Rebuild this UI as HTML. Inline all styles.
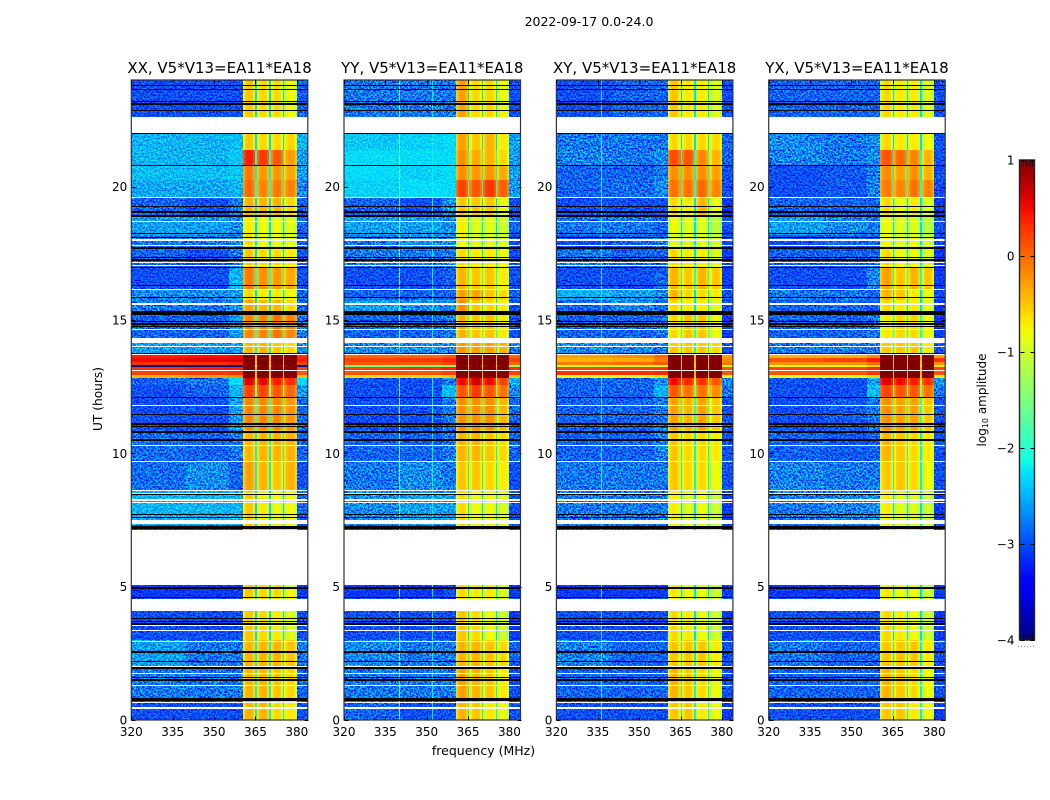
<!DOCTYPE html>
<html lang="en">
<head>
<meta charset="utf-8">
<title>2022-09-17 0.0-24.0</title>
<style>
html,body{margin:0;padding:0;background:#fff;}
body{width:1050px;height:800px;overflow:hidden;}
svg{display:block;}
text{font-family:"DejaVu Sans","Liberation Sans",sans-serif;fill:#000;}
.noise{mix-blend-mode:overlay;}
</style>
</head>
<body>
<svg id="chart" xmlns="http://www.w3.org/2000/svg" width="1050" height="800" viewBox="0 0 1050 800">
  <defs>
    <filter id="speckle" x="0" y="0" width="100%" height="100%" color-interpolation-filters="sRGB">
      <feTurbulence type="fractalNoise" baseFrequency="0.6" numOctaves="2" seed="7"/>
      <feColorMatrix type="matrix" values="3.2 0 0 0 -1.1  3.2 0 0 0 -1.1  3.2 0 0 0 -1.1  0 0 0 0 1"/>
    </filter>
    <linearGradient id="jet-gradient" x1="0" y1="1" x2="0" y2="0"></linearGradient>
  </defs>
  <rect x="0" y="0" width="1050" height="800" fill="#fff"/>
  <text x="589" y="26" font-size="12.5" text-anchor="middle">2022-09-17 0.0-24.0</text>
  <text x="483.500" y="755" font-size="12.5" text-anchor="middle">frequency (MHz)</text>
  <text x="0" y="0" font-size="12.2" text-anchor="middle" transform="translate(102 399) rotate(-90)">UT (hours)</text>
  <text x="0" y="0" font-size="12" text-anchor="middle" transform="translate(986 400) rotate(-90)">log<tspan font-size="8" dy="2">10</tspan><tspan dy="-2"> amplitude</tspan></text>
  <g id="panels"></g>
  <g id="colorbar"></g>
</svg>
<script>
// ---- Data ----
const panelNames = ['XX', 'YY', 'XY', 'YX'];
const baselineLabel = 'V5*V13=EA11*EA18';
const xTickLabels = [320, 335, 350, 365, 380];
const yTickLabels = [0, 5, 10, 15, 20];
const colorbarTicks = [1, 0, -1, -2, -3, -4];

// UT boundaries of the time bands, top of the plot to the bottom
const utBandEdges = [24, 22.61, 21.98, 21.38, 20.78, 20.25, 19.61, 18.94, 18.19, 17.63, 16.95, 16.13, 15.75, 15.19, 14.14, 13.69, 13.58, 13.43, 13.31, 13.24, 13.09, 12.94, 12.83, 12.56, 12.11, 10.88, 9.68, 8.63, 7.31, 5.06, 4.58, 4.09, 3.0, 1.95, 0.75, 0];

// Frequency layout in MHz
const backgroundEdges = [320, 340, 355.5, 360.5];
const subbandRanges = [[360.5, 365], [365.5, 370], [370.5, 375], [375.5, 380]];
const edgeRange = [380, 384];

// Shape of each subband across its channels, log10 offset
const bandpassProfile = [-0.15, 0.05, 0.12, 0.12, 0.08, -0.1];

// log10 amplitude of the narrow gaps between subbands, per time band
const gapLevels = [-2.3, -2.3, -2.3, -2.1, -2.2, -2.1, -2.3, -2.3, -2.3, -2.3, -2.1, -2.3, -2.3, -2.1, -2.2, -0.5, -0.4, -0.5, -0.7, -0.4, -0.4, -0.5, -0.9, -1.6, -2.1, -2.2, -2.2, -2.3, -2.3, -2.3, -2.3, -2.3, -2.2, -2.2, -2.2];

// Levels per time band: [320-340, 340-355.5, 355.5-360.5, sub1, sub2, sub3, sub4, 380-384]
const xxLevels = [
[-3,-3,-3,-0.6,-0.7,-0.7,-0.9,-2.9],[-3,-3,-3,-0.6,-0.7,-0.7,-0.9,-2.9],
[-2.5,-2.5,-2.45,-0.6,-0.7,-0.7,-0.7,-2.5],[-2.5,-2.5,-2.4,0.3,0.15,0,-0.4,-2.6],
[-2.45,-2.45,-2.4,-0.2,-0.35,-0.35,-0.45,-2.6],[-2.55,-2.55,-2.5,-0.1,-0.25,-0.2,-0.25,-2.7],
[-2.9,-3,-2.8,-0.5,-0.5,-0.5,-0.7,-2.9],[-2.6,-2.6,-2.7,-0.8,-0.9,-0.9,-1,-2.9],
[-2.8,-2.8,-2.7,-0.7,-0.9,-0.9,-1,-2.9],[-2.9,-3,-2.8,-0.6,-0.7,-0.7,-0.8,-3],
[-3,-3,-2.5,-0.2,-0.3,-0.35,-0.45,-3],[-2.7,-2.7,-2.6,-0.7,-0.8,-0.8,-0.9,-2.9],
[-2.8,-2.8,-2.7,-0.4,-0.5,-0.5,-0.7,-2.9],[-2.9,-2.9,-2.6,-0.25,-0.25,-0.15,-0.25,-2.8],
[-2.6,-2.6,-2.6,-0.5,-0.5,-0.6,-0.7,-2.7],[0.4,0.45,0.5,1.4,1.4,1.4,1.4,0.3],
[0.5,0.55,0.6,1.4,1.4,1.4,1.4,0.4],[0.3,0.3,0.4,1.4,1.4,1.4,1.4,0.2],
[-4,-4,-4,0.9,0.9,0.9,0.9,-4],[0.3,0.4,0.4,1.4,1.4,1.4,1.4,0.2],
[0.2,0.25,0.3,1.4,1.4,1.4,1.3,0.1],[-0.4,-0.3,-0.2,1.4,1.4,1.3,1.3,-0.5],
[-2.9,-2.8,-2.3,0.5,0.45,0.3,0.2,-2.3],[-3,-2.9,-2.5,0.1,0.1,0,-0.1,-2.6],
[-3,-3,-2.6,-0.25,-0.25,-0.25,-0.35,-2.9],[-2.85,-2.9,-2.8,-0.5,-0.5,-0.5,-0.5,-2.9],
[-2.85,-2.7,-2.9,-0.4,-0.5,-0.6,-0.5,-3],[-2.5,-2.5,-2.5,-0.6,-0.8,-0.9,-0.9,-2.9],
[-3,-3,-3,-0.6,-0.7,-0.7,-0.9,-3],[-3.1,-3.1,-3.1,-0.6,-0.7,-0.7,-0.9,-3.1],
[-3,-3,-3,-0.6,-0.7,-0.7,-0.9,-3],[-3,-3,-3,-0.6,-0.7,-0.8,-1,-3],
[-2.6,-2.8,-2.8,-0.5,-0.5,-0.5,-0.6,-2.8],[-2.8,-2.8,-2.8,-0.5,-0.5,-0.6,-0.7,-2.9],
[-3,-3,-3,-0.5,-0.5,-0.7,-0.8,-3]
];
const yyLevels = [
[-2.8,-2.8,-2.8,-0.4,-0.7,-0.7,-0.9,-3],[-2.8,-2.8,-2.8,-0.4,-0.7,-0.7,-0.9,-3],
[-2.4,-2.35,-2.3,-0.4,-0.6,-0.5,-0.8,-2.6],[-2.3,-2.3,-2.3,-0.3,-0.45,-0.5,-0.7,-2.6],
[-2.3,-2.35,-2.3,-0.3,-0.35,-0.35,-0.45,-2.6],[-2.35,-2.3,-2.3,0.1,0,0.15,-0.05,-2.6],
[-2.9,-3,-2.7,-0.6,-0.6,-0.6,-0.9,-3],[-2.6,-2.6,-2.7,-0.8,-1,-1,-1.1,-2.9],
[-2.8,-2.7,-2.7,-0.9,-1,-1,-1,-3],[-2.8,-2.8,-2.8,-0.7,-0.8,-0.8,-0.9,-3],
[-3,-3,-2.9,-0.5,-0.6,-0.6,-0.8,-3],[-2.9,-2.9,-2.9,-0.4,-0.4,-0.6,-0.7,-2.9],
[-2.6,-2.7,-2.7,-0.3,-0.6,-0.7,-0.8,-3],[-2.9,-2.9,-2.8,-0.5,-0.6,-0.6,-0.8,-3],
[-2.7,-2.7,-2.7,-0.35,-0.4,-0.4,-0.5,-2.8],[0,0,0.1,1.4,1.4,1.4,1.4,0],
[0.2,0.25,0.35,1.4,1.4,1.4,1.4,0.2],[0.1,0.1,0.2,1.4,1.4,1.4,1.4,0],
[-1.5,-1.5,-1.3,0.9,0.9,0.9,0.9,-1.3],[0.2,0.3,0.4,1.4,1.4,1.4,1.4,0.3],
[0.1,0.1,0.2,1.4,1.4,1.4,1.4,0.2],[-0.6,-0.6,-0.5,1.4,1.4,1.4,1.4,-0.5],
[-3,-3,-2.8,0.4,0.55,0.4,0.1,-2.5],[-3,-3,-2.45,0,0.15,0,-0.15,-2.7],
[-3,-3,-2.8,-0.3,-0.3,-0.3,-0.5,-2.9],[-2.9,-2.9,-2.8,-0.5,-0.5,-0.6,-0.7,-2.9],
[-2.8,-2.7,-2.8,-0.6,-0.6,-0.7,-0.8,-3],[-2.7,-2.6,-2.6,-0.7,-0.9,-0.9,-1,-3],
[-3,-3,-3,-0.7,-0.8,-0.8,-1,-3],[-3.1,-3.1,-3,-0.7,-0.8,-0.8,-1,-3.1],
[-3,-3,-3,-0.7,-0.8,-0.8,-1,-3],[-3,-3,-3,-0.6,-0.7,-0.9,-1.1,-3.1],
[-2.7,-2.8,-2.8,-0.5,-0.5,-0.6,-0.7,-2.9],[-2.8,-2.8,-2.8,-0.4,-0.5,-0.6,-0.8,-3],
[-2.9,-3,-3,-0.5,-0.6,-0.8,-0.9,-3]
];
const xyLevels = [
[-3,-2.9,-2.9,-0.6,-0.8,-0.8,-1,-3],[-3,-2.9,-2.9,-0.6,-0.8,-0.8,-1,-3],
[-2.8,-2.8,-2.8,-0.7,-0.7,-0.7,-0.7,-2.9],[-2.75,-2.8,-2.7,0.05,0,-0.25,-0.5,-2.9],
[-2.9,-2.9,-2.8,-0.3,-0.3,-0.3,-0.4,-3],[-2.9,-2.85,-2.7,-0.15,-0.15,-0.1,-0.25,-3],
[-3,-3,-3,-0.7,-0.8,-0.5,-0.9,-3.1],[-2.8,-2.8,-2.9,-0.9,-1,-1,-1.2,-3],
[-3,-2.9,-2.8,-1,-1,-1,-1.1,-3],[-2.8,-2.9,-2.9,-0.7,-0.8,-0.8,-1,-3.1],
[-3,-3,-2.9,-0.5,-0.6,-0.5,-0.6,-3.1],[-2.5,-2.6,-2.7,-0.5,-0.7,-0.7,-0.8,-3],
[-2.9,-2.7,-2.9,-0.7,-0.8,-0.8,-1,-3],[-2.9,-2.9,-2.8,-0.7,-0.6,-0.6,-0.9,-3.1],
[-2.7,-2.7,-2.8,-0.6,-0.6,-0.6,-0.7,-3],[-0.3,-0.2,0,1.4,1.4,1.4,1.2,-0.3],
[-0.4,-0.35,-0.1,1.4,1.4,1.4,1.2,-0.2],[-0.1,0,0.1,1.4,1.3,1.3,1.2,-0.1],
[-1,-1,-0.8,1.1,1.1,1.1,1.1,-0.9],[0.2,0.25,0.3,1.4,1.4,1.4,1.4,0.1],
[0.3,0.3,0.35,1.4,1.4,1.4,1.3,0.1],[-0.8,-0.8,-0.6,1.4,1.2,1.4,1.2,-0.9],
[-2.9,-2.9,-2.7,0.4,0.25,0.2,0,-2.7],[-2.9,-2.9,-2.5,0,-0.15,-0.15,-0.3,-2.8],
[-2.9,-2.9,-2.8,-0.4,-0.5,-0.4,-0.6,-3],[-2.9,-2.9,-2.75,-0.6,-0.7,-0.7,-0.8,-3],
[-2.8,-2.8,-2.8,-0.6,-0.7,-0.7,-0.9,-3],[-2.8,-2.8,-2.8,-0.8,-1,-0.9,-1.1,-3.1],
[-3,-3,-3,-0.8,-0.9,-0.9,-1.1,-3],[-3.1,-3.1,-3.1,-0.8,-0.9,-0.9,-1.1,-3.1],
[-3,-3,-3,-0.8,-0.9,-0.9,-1.1,-3],[-3,-3,-3,-0.7,-0.8,-0.9,-1.1,-3.1],
[-2.75,-2.9,-2.9,-0.6,-0.6,-0.6,-0.8,-3],[-2.9,-2.9,-2.9,-0.5,-0.6,-0.7,-0.9,-3],
[-3,-3,-3,-0.6,-0.6,-0.8,-0.9,-3.1]
];
const yxLevels = [
[-2.9,-2.9,-2.9,-0.7,-0.8,-0.8,-1,-3],[-2.9,-2.9,-2.9,-0.7,-0.8,-0.8,-1,-3],
[-2.7,-2.8,-2.7,-0.7,-0.8,-0.8,-0.9,-3],[-2.75,-2.8,-2.7,0,-0.1,-0.25,-0.5,-3],
[-3,-2.95,-2.8,-0.3,-0.4,-0.3,-0.5,-3],[-3,-2.95,-2.75,-0.2,-0.25,-0.15,-0.25,-3],
[-2.9,-2.9,-2.9,-0.7,-0.9,-0.8,-1,-3.1],[-2.6,-2.7,-2.8,-0.9,-1,-1,-1.2,-3],
[-3,-2.9,-2.9,-0.9,-1,-0.9,-1.1,-3],[-2.9,-2.9,-2.9,-0.7,-0.9,-0.9,-1,-3.1],
[-3,-3,-2.7,-0.4,-0.6,-0.5,-0.6,-3.1],[-2.8,-2.8,-2.9,-0.5,-0.6,-0.8,-0.9,-3],
[-2.9,-2.9,-2.9,-0.7,-0.8,-0.8,-1,-3.1],[-2.9,-2.9,-2.8,-0.8,-0.7,-0.7,-0.9,-3.1],
[-2.8,-2.8,-2.8,-0.6,-0.6,-0.6,-0.8,-3],[-0.4,-0.4,-0.2,1.4,1.4,1.4,1.4,-0.3],
[0.1,0.2,0.4,1.4,1.4,1.4,1.4,0.3],[-0.2,-0.2,0,1.4,1.4,1.4,1.4,-0.2],
[-0.8,-0.8,-0.6,1.4,1.4,1.4,1.4,-0.7],[0.2,0.2,0.35,1.4,1.4,1.4,1.4,0.2],
[0.1,0.1,0.25,1.4,1.4,1.4,1.4,0.1],[-0.8,-0.8,-0.6,1.4,1.4,1.4,1.4,-0.7],
[-3,-3,-2.6,0.5,0.4,0.3,0.2,-2.6],[-3,-3,-2.45,0.1,0,0,-0.15,-2.8],
[-3,-2.95,-2.8,-0.3,-0.4,-0.4,-0.6,-3],[-2.9,-2.95,-2.9,-0.5,-0.6,-0.7,-0.8,-3],
[-2.75,-2.8,-2.8,-0.6,-0.6,-0.7,-0.9,-3],[-2.8,-2.75,-2.7,-0.8,-1,-1,-1.1,-3.1],
[-3,-3,-3,-0.8,-1,-1,-1.1,-3],[-3.1,-3.1,-3.1,-0.8,-0.9,-0.9,-1.1,-3.1],
[-3,-3,-3,-0.8,-0.9,-0.9,-1.1,-3],[-3,-3,-3,-0.7,-0.8,-0.9,-1.1,-3.1],
[-2.8,-2.9,-2.9,-0.6,-0.6,-0.6,-0.8,-3],[-2.9,-2.9,-2.9,-0.5,-0.6,-0.7,-0.9,-3],
[-3,-3,-3,-0.6,-0.6,-0.8,-0.9,-3.1]
];

// Narrow interference channels: MHz and log10 amplitude
const rfiFrequencies = [[], [340, 352], [336], []];
const rfiLevels = [[], [-1.8, -2.2], [-2.2], []];

// Flagged UT rows (shared by all panels)
const blackFlagCenters = [23.81, 23.63, 23.21, 23.10, 22.84, 21.98, 20.78, 19.24, 19.05, 18.90, 18.26, 18.11, 17.36, 17.25, 16.97, 16.31, 15.83, 14.96, 14.85, 14.74, 13.73, 12.11, 11.44, 11.10, 10.99, 10.80, 10.50, 8.44, 7.69, 7.58, 4.95, 4.58, 3.79, 3.71, 3.60, 2.55, 2.21, 1.95, 1.58, 1.50];
const blackFlagRanges = [[15.19, 15.34], [17.66, 17.74], [7.16, 7.28], [0.73, 0.84]];
const whiteFlagCenters = [19.61, 18.71, 18.00, 17.78, 17.14, 17.03, 16.16, 15.60, 14.63, 13.99, 13.69, 13.09, 11.81, 10.31, 9.68, 8.59, 8.51, 8.25, 8.14, 3.53, 3.34, 2.93, 1.99, 1.73, 1.28, 0.64, 0.45];
const whiteFlagRanges = [[22.0, 22.61], [14.13, 14.33], [7.35, 7.5], [5.06, 7.14], [4.09, 4.52]];
const thinFlagHours = 0.04;

// ---- Layout ----
const SVG_NS = 'http://www.w3.org/2000/svg';
const panelLefts = [131.3, 344, 556.4, 768.7];
const panelWidth = 176.5;
const plotTop = 80;
const plotBottom = 720;
const freqMin = 320;
const freqMax = 384;
const utMax = 24;
const colorMin = -4;
const colorMax = 1;
const cbarLeft = 1019.5;
const cbarWidth = 15;
const cbarTop = 160;
const cbarBottom = 640;

function xScale(left, mhz) { return left + (mhz - freqMin) * panelWidth / (freqMax - freqMin); }
function yScale(ut) { return plotBottom - (ut / utMax) * (plotBottom - plotTop); }
function cbarScale(v) { return cbarBottom - (v - colorMin) / (colorMax - colorMin) * (cbarBottom - cbarTop); }

function ramp(t, pts) {
  if (t <= pts[0][0]) return pts[0][1];
  for (let i = 1; i < pts.length; i++) {
    if (t <= pts[i][0]) {
      const f = (t - pts[i - 1][0]) / (pts[i][0] - pts[i - 1][0]);
      return pts[i - 1][1] + f * (pts[i][1] - pts[i - 1][1]);
    }
  }
  return pts[pts.length - 1][1];
}
const jetRed = [[0, 0], [0.35, 0], [0.66, 1], [0.89, 1], [1, 0.5]];
const jetGreen = [[0, 0], [0.125, 0], [0.375, 1], [0.64, 1], [0.91, 0], [1, 0]];
const jetBlue = [[0, 0.5], [0.11, 1], [0.34, 1], [0.65, 0], [1, 0]];
function colorScale(v) {
  const t = Math.min(1, Math.max(0, (v - colorMin) / (colorMax - colorMin)));
  const c = [jetRed, jetGreen, jetBlue].map(function (p) { return Math.round(255 * ramp(t, p)); });
  return 'rgb(' + c[0] + ',' + c[1] + ',' + c[2] + ')';
}

function setAttrs(el, attrs) {
  Object.keys(attrs).forEach(function (k) { el.setAttribute(k, attrs[k]); });
}
function cell(parent, left, f0, f1, uLow, uHigh, value) {
  const el = document.createElementNS(SVG_NS, 'rect');
  
  
  const x0 = Math.round(xScale(left, f0));
  const x1 = Math.max(x0 + 1, Math.round(xScale(left, f1)));
  const yTop = Math.round(yScale(uHigh));
  const yBottom = Math.round(yScale(uLow));
  setAttrs(el, { x: x0, y: yTop, width: x1 - x0, height: yBottom - yTop, fill: colorScale(value), 'shape-rendering': 'crispEdges' });
  parent.appendChild(el);
}
function flag(parent, left, u0, u1, color) {
  const el = document.createElementNS(SVG_NS, 'rect');
  
  
  const yTop = Math.round(yScale(u1));
  const yBottom = Math.max(yTop + 1, Math.round(yScale(u0)));
  const xLeft = Math.round(left);
  setAttrs(el, { x: xLeft, y: yTop, width: Math.round(left + panelWidth) - xLeft, height: yBottom - yTop, fill: color, 'shape-rendering': 'crispEdges' });
  parent.appendChild(el);
}
function tick(parent, x1, y1, x2, y2) {
  const el = document.createElementNS(SVG_NS, 'line');
  
  
  setAttrs(el, { x1: Math.round(x1) + 0.5, y1: Math.round(y1) + 0.5, x2: Math.round(x2) + 0.5, y2: Math.round(y2) + 0.5, stroke: '#000', 'stroke-width': 1, 'shape-rendering': 'crispEdges' });
  parent.appendChild(el);
}
function label(parent, x, y, anchor, str, size) {
  const el = document.createElementNS(SVG_NS, 'text');
  
  
  setAttrs(el, { x: x, y: y, 'text-anchor': anchor, 'font-size': size });
  el.textContent = str;
  parent.appendChild(el);
}

// ---- Panels ----
const allLevels = [xxLevels, yyLevels, xyLevels, yxLevels];
const panelsGroup = document.getElementById('panels');

panelNames.forEach(function (name, p) {
  const left = panelLefts[p];
  const levels = allLevels[p];
  const g = document.createElementNS(SVG_NS, 'g');
  
  
  panelsGroup.appendChild(g);

  const heat = document.createElementNS(SVG_NS, 'g');
  
  
  g.appendChild(heat);

  levels.forEach(function (row, b) {
    const u0 = utBandEdges[b + 1], u1 = utBandEdges[b];
    for (let c = 0; c < 3; c++) cell(heat, left, backgroundEdges[c], backgroundEdges[c + 1], u0, u1, row[c]);
    rfiFrequencies[p].forEach(function (f, i) {
      const base = row[f < backgroundEdges[1] ? 0 : (f < backgroundEdges[2] ? 1 : 2)];
      cell(heat, left, f, f + 0.4, u0, u1, Math.max(base, rfiLevels[p][i]));
    });
    subbandRanges.forEach(function (range, s) {
      const step = (range[1] - range[0]) / bandpassProfile.length;
      bandpassProfile.forEach(function (offset, k) {
        cell(heat, left, range[0] + k * step, range[0] + (k + 1) * step, u0, u1, row[3 + s] + offset);
      });
      if (s < subbandRanges.length - 1) cell(heat, left, range[1], subbandRanges[s + 1][0], u0, u1, gapLevels[b]);
    });
    cell(heat, left, edgeRange[0], edgeRange[1], u0, u1, row[7]);
  });

  // Speckle texture on the off-band regions only (not a data mark)
  const textureSpans = [[utBandEdges[15], utBandEdges[0]], [utBandEdges[35], utBandEdges[22]]];
  textureSpans.forEach(function (span) {
    [[backgroundEdges[0], backgroundEdges[3]], edgeRange].forEach(function (fr) {
      const n = document.createElementNS(SVG_NS, 'rect');
      
      
      setAttrs(n, { x: Math.round(xScale(left, fr[0])), y: Math.round(yScale(span[1])), width: Math.round(xScale(left, fr[1])) - Math.round(xScale(left, fr[0])), height: Math.round(yScale(span[0])) - Math.round(yScale(span[1])), filter: 'url(#speckle)', 'class': 'noise' });
      g.appendChild(n);
    });
  });

  blackFlagCenters.forEach(function (u) { flag(g, left, u - thinFlagHours / 2, u + thinFlagHours / 2, '#000'); });
  blackFlagRanges.forEach(function (r) { flag(g, left, r[0], r[1], '#000'); });
  whiteFlagCenters.forEach(function (u) { flag(g, left, u - thinFlagHours / 2, u + thinFlagHours / 2, '#fff'); });
  whiteFlagRanges.forEach(function (r) { flag(g, left, r[0], r[1], '#fff'); });

  const spine = document.createElementNS(SVG_NS, 'rect');
  
  
  setAttrs(spine, { x: left, y: plotTop, width: panelWidth, height: plotBottom - plotTop, fill: 'none', stroke: '#333', 'stroke-width': 1.2 });
  g.appendChild(spine);

  xTickLabels.forEach(function (f) {
    const x = xScale(left, f);
    tick(g, x, plotBottom, x, plotBottom - 4);
    tick(g, x, plotTop, x, plotTop + 4);
    label(g, x, plotBottom + 16, 'middle', String(f), 12);
  });
  yTickLabels.forEach(function (u) {
    const y = yScale(u);
    tick(g, left, y, left + 4, y);
    tick(g, left + panelWidth, y, left + panelWidth - 4, y);
    label(g, left - 4, y + 4.5, 'end', String(u), 12);
  });

  const title = document.createElementNS(SVG_NS, 'text');
  
  
  setAttrs(title, { x: left + panelWidth / 2, y: plotTop - 7, 'text-anchor': 'middle', 'font-size': 15 });
  title.textContent = name + ', ' + baselineLabel;
  g.appendChild(title);
});

// ---- Colorbar ----
const gradient = document.getElementById('jet-gradient');
for (let i = 0; i <= 40; i++) {
  const stop = document.createElementNS(SVG_NS, 'stop');
  setAttrs(stop, { offset: (i / 40), 'stop-color': colorScale(colorMin + (colorMax - colorMin) * i / 40) });
  gradient.appendChild(stop);
}
const cbar = document.getElementById('colorbar');
const cbarRect = document.createElementNS(SVG_NS, 'rect');


setAttrs(cbarRect, { x: cbarLeft, y: cbarTop, width: cbarWidth, height: cbarBottom - cbarTop, fill: 'url(#jet-gradient)', stroke: '#222', 'stroke-width': 1.4 });
cbar.appendChild(cbarRect);
colorbarTicks.forEach(function (v) {
  const y = cbarScale(v);
  tick(cbar, cbarLeft, y, cbarLeft + 4, y);
  tick(cbar, cbarLeft + cbarWidth - 1, y, cbarLeft + cbarWidth - 5, y);
  label(cbar, cbarLeft - 5, y + 4.5, 'end', String(v).replace('-', '\u2212'), 12);
});
[3, 6.5, 10, 12.5].forEach(function (dx) {
  tick(cbar, cbarLeft + dx, cbarTop, cbarLeft + dx, cbarTop + 6);
  tick(cbar, cbarLeft + dx, cbarBottom, cbarLeft + dx, cbarBottom - 6);
});
[0, 3, 6, 9, 12, 15].forEach(function (dx) {
  const dot = document.createElementNS(SVG_NS, 'rect');
  
  
  setAttrs(dot, { x: cbarLeft - 1.5 + dx, y: 646, width: 1, height: 1, fill: '#888' });
  cbar.appendChild(dot);
});
</script>
</body>
</html>
